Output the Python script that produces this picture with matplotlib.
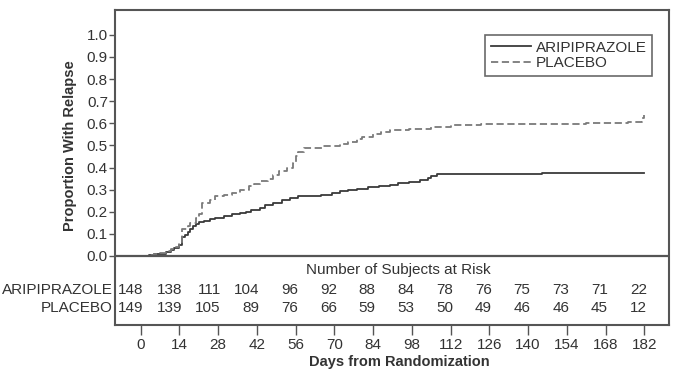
import numpy as np
import matplotlib
matplotlib.use("Agg")
import matplotlib.pyplot as plt
import matplotlib.transforms as mtransforms

plt.rcParams['font.family'] = ['Liberation Sans Narrow', 'Liberation Sans', 'DejaVu Sans']

# Kaplan-Meier style step data
ari_days = [0, 3, 5, 7, 9, 11, 12, 14, 15, 16, 17, 18, 19, 20, 21, 23, 25, 27, 30, 33, 36, 38, 40, 43, 45, 48, 51, 54, 57,
            61, 65, 69, 72, 75, 78, 82, 86, 90, 93, 97, 101, 104, 105, 107, 145, 182]
ari_prop = [0.0, 0.003, 0.007, 0.01, 0.017, 0.025, 0.035, 0.05, 0.085, 0.095, 0.11, 0.12, 0.135, 0.145, 0.155, 0.16, 0.165,
            0.17, 0.18, 0.19, 0.195, 0.20, 0.21, 0.215, 0.23, 0.24, 0.255, 0.262, 0.27, 0.272, 0.275, 0.285, 0.295, 0.30,
            0.305, 0.31, 0.315, 0.322, 0.33, 0.336, 0.343, 0.352, 0.36, 0.37, 0.376, 0.376]

pla_days = [0, 3, 5, 7, 9, 11, 12, 14, 15, 17, 18, 20, 21, 22, 25, 27, 30, 33, 36, 39, 41, 43, 46, 48, 50, 53, 55, 56, 57,
            59, 66, 72, 75, 78, 80, 84, 87, 90, 97, 105, 112, 123, 161, 176, 181, 182]
pla_prop = [0.0, 0.003, 0.008, 0.015, 0.022, 0.03, 0.04, 0.06, 0.12, 0.135, 0.15, 0.17, 0.19, 0.24, 0.255, 0.27, 0.275,
            0.285, 0.30, 0.315, 0.325, 0.34, 0.35, 0.365, 0.385, 0.40, 0.42, 0.45, 0.47, 0.49, 0.495, 0.505, 0.515, 0.53,
            0.54, 0.55, 0.56, 0.57, 0.575, 0.585, 0.59, 0.597, 0.602, 0.606, 0.623, 0.637]

risk_days = [0, 14, 28, 42, 56, 70, 84, 98, 112, 126, 140, 154, 168, 182]
ari_risk = [148, 138, 111, 104, 96, 92, 88, 84, 78, 76, 75, 73, 71, 22]
pla_risk = [149, 139, 105, 89, 76, 66, 59, 53, 50, 49, 46, 46, 45, 12]
y_ticks = [0.0, 0.1, 0.2, 0.3, 0.4, 0.5, 0.6, 0.7, 0.8, 0.9, 1.0]

txt = '#333333'
edge = '#555555'

fig = plt.figure(figsize=(6.76, 3.76), dpi=100)
ax = fig.add_axes([0.170, 0.1356, 0.8196, 0.8378])
ax.set_xlim(-9.3, 190.9)
ax.set_ylim(-0.312, 1.112)

ax.step(ari_days, ari_prop, where='post', color='#3a3a3a', lw=1.3, label='ARIPIPRAZOLE')
ax.step(pla_days, pla_prop, where='post', color='#7a7a7a', lw=1.3, ls=(0, (4, 2)), label='PLACEBO')

ax.axhline(0, color=edge, lw=1.6)
for s in ax.spines.values():
    s.set_color(edge)
    s.set_linewidth(1.5)

ax.set_yticks(y_ticks)
ax.set_yticklabels([f'{v:.1f}' for v in y_ticks])
ax.set_xticks(risk_days)
ax.tick_params(axis='y', direction='out', length=4, width=1, color=edge, labelsize=11, labelcolor=txt, pad=1)
ax.tick_params(axis='x', direction='out', length=7, width=1, color=edge, labelsize=11, labelcolor=txt, pad=2)

ax.set_xlabel('Days from Randomization', fontsize=10.5, fontweight='bold', color=txt, va='center')
ax.xaxis.set_label_coords(0.514, -0.117)
mixed = mtransforms.blended_transform_factory(ax.transAxes, ax.transData)
ax.text(-0.081, 0.5, 'Proportion With Relapse', transform=mixed,
        rotation=90, ha='center', va='center', fontsize=10.5, fontweight='bold', color=txt)

# at-risk table
ax.text(93, -0.063, 'Number of Subjects at Risk', ha='center', va='center', fontsize=11, color=txt)
ax.text(-0.004, -0.154, 'ARIPIPRAZOLE', transform=mixed, ha='right', va='center', fontsize=11, color=txt)
ax.text(-0.004, -0.235, 'PLACEBO', transform=mixed, ha='right', va='center', fontsize=11, color=txt)
for d, a, p in zip(risk_days, ari_risk, pla_risk):
    ax.text(d + 0.9, -0.154, str(a), ha='right', va='center', fontsize=11, color=txt)
    ax.text(d + 0.9, -0.235, str(p), ha='right', va='center', fontsize=11, color=txt)

leg = ax.legend(loc='upper right', bbox_to_anchor=(0.984, 0.946), fancybox=False, fontsize=11,
                handlelength=2.6, handletextpad=0.3, borderpad=0.4, labelspacing=0.1, frameon=True)
leg.get_frame().set_edgecolor('#444444')
leg.get_frame().set_linewidth(1.2)
for t in leg.get_texts():
    t.set_color(txt)

fig.savefig('out.png', dpi=100)
